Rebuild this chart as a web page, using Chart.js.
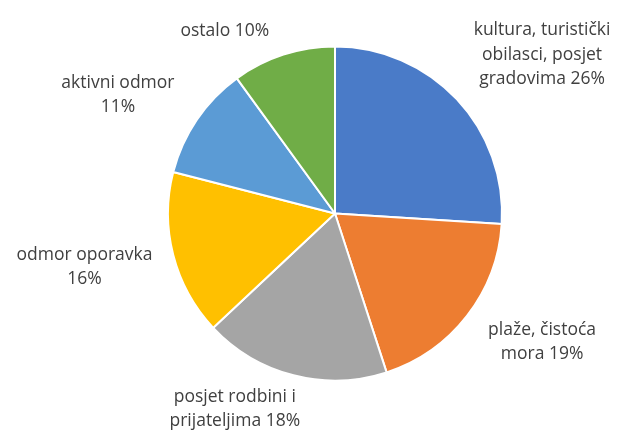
<!DOCTYPE html>
<html>
<head>
<meta charset="utf-8">
<script src="https://cdn.jsdelivr.net/npm/chart.js@4"></script>
<style>
  html, body { margin: 0; padding: 0; background: #fff; }
  #wrap { width: 620px; height: 430px; }
</style>
</head>
<body>
<div id="wrap"><canvas id="mycanvas" width="620" height="430"></canvas></div>
<script>
var categories = [
    ["kultura, turistički", "obilasci, posjet", "gradovima"],
    ["plaže, čistoća", "mora"],
    ["posjet rodbini i", "prijateljima"],
    ["odmor oporavka"],
    ["aktivni odmor"],
    ["ostalo"]
];
var shares = [26, 19, 18, 16, 11, 10];
var colors = ['#4A7BC8', '#ED7D31', '#A5A5A5', '#FFC000', '#5B9BD5', '#70AD47'];

// where each label sits, relative to the pie centre, in pie radii
var labelPos = [
    [1.24, -0.95],
    [1.24, 0.77],
    [-0.60, 1.17],
    [-1.50, 0.32],
    [-1.30, -0.71],
    [-0.66, -1.09]
];

// last line gets the percent appended; one-line labels put percent on a new line
function labelLines(i) {
    var lines = categories[i].slice();
    var pct = shares[i] + '%';
    if (lines.length === 1 && i !== 5) {
        lines.push(pct);
    } else {
        lines[lines.length - 1] += ' ' + pct;
    }
    return lines;
}

var outerLabels = {
    id: 'outerLabels',
    afterDraw: function (chart) {
        var ctx = chart.ctx;
        var arc = chart.getDatasetMeta(0).data[0];
        var cx = arc.x, cy = arc.y, r = arc.outerRadius;
        ctx.save();
        ctx.font = '17.5px "Open Sans"';
        ctx.fillStyle = '#404040';
        ctx.textAlign = 'center';
        ctx.textBaseline = 'middle';
        var lh = 24.5;
        for (var i = 0; i < shares.length; i++) {
            var lines = labelLines(i);
            var x = cx + labelPos[i][0] * r;
            var y = cy + labelPos[i][1] * r - (lines.length - 1) * lh / 2;
            for (var j = 0; j < lines.length; j++) {
                ctx.fillText(lines[j], x, y + j * lh);
            }
        }
        ctx.restore();
    }
};

var chartdata = {
    labels: categories.map(function (c) { return c.join(' '); }),
    datasets: [
        {
            data: shares,
            backgroundColor: colors,
            borderColor: '#ffffff',
            borderWidth: 2
        }
    ]
};

var pieChart = new Chart(document.getElementById('mycanvas'), {
    type: 'pie',
    data: chartdata,
    options: {
        responsive: false,
        animation: false,
        layout: { padding: { top: 45, bottom: 48, left: 167, right: 117 } },
        plugins: {
            legend: { display: false },
            tooltip: { enabled: false }
        }
    },
    plugins: [outerLabels]
});
</script>
</body>
</html>
